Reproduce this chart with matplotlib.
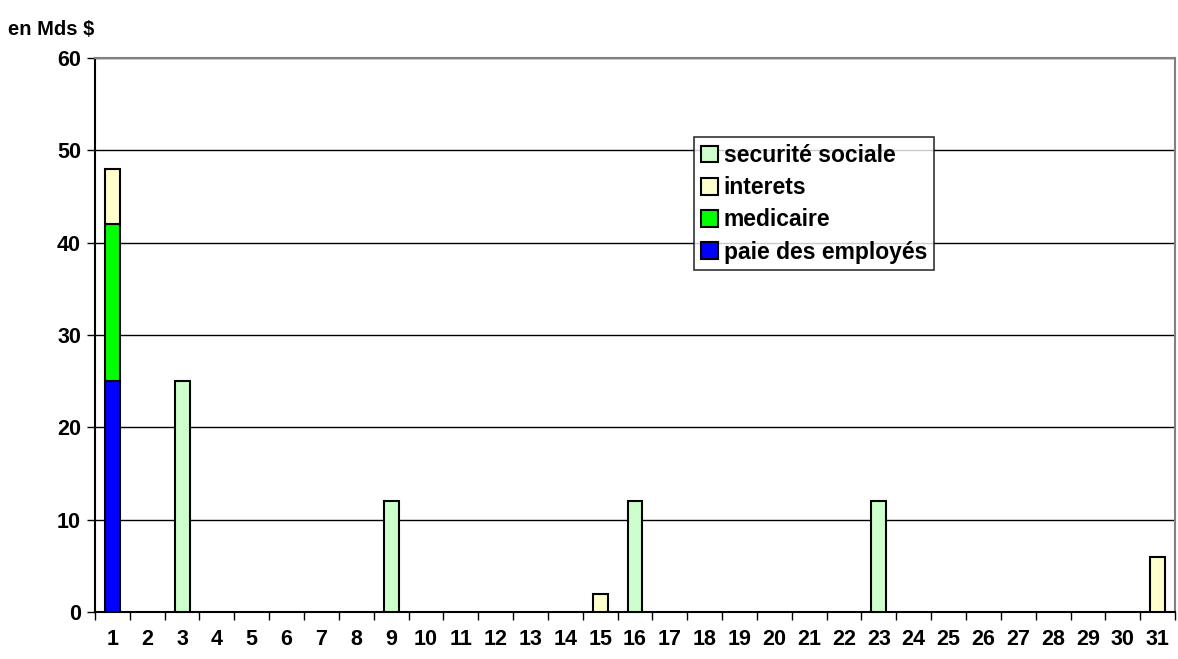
import matplotlib
matplotlib.use("Agg")
import matplotlib.pyplot as plt
import numpy as np

days = list(range(1, 32))
paie = [25] + [0]*30
medicaire = [17] + [0]*30
interets = [0]*31
interets[0] = 6; interets[14] = 2; interets[30] = 6
secu = [0]*31
secu[2] = 25; secu[8] = 12; secu[15] = 12; secu[22] = 12

series = [("paie des employés", paie, "#0000FF"),
          ("medicaire", medicaire, "#00FF00"),
          ("interets", interets, "#FFFFCC"),
          ("securité sociale", secu, "#CCFFCC")]

plt.rcParams['font.family'] = ['Liberation Sans', 'DejaVu Sans']
plt.rcParams['font.weight'] = 'bold'

fig = plt.figure(figsize=(11.78, 6.59), dpi=100)
ax = fig.add_axes([0.0806, 0.0713, 0.9169, 0.8407])

x = np.arange(len(days))
bottom = np.zeros(len(days))
handles = []
for name, vals, col in series:
    v = np.array(vals, dtype=float)
    mask = v > 0
    b = ax.bar(x[mask], v[mask], width=0.43, bottom=bottom[mask], color=col,
               edgecolor="black", linewidth=1.5, label=name, zorder=3)
    handles.append(b)
    bottom += v

ax.set_xlim(-0.5, len(days) - 0.5)
ax.set_ylim(0, 60)
ax.set_yticks(range(0, 61, 10))
ax.yaxis.grid(True, color="black", linewidth=1, zorder=0)
ax.set_xticks(x)
ax.set_xticklabels([str(d) for d in days], fontsize=15.5, fontweight='bold')
ax.set_xticks(np.arange(-0.5, len(days), 1), minor=True)
ax.tick_params(axis='x', which='major', length=0, pad=12)
ax.tick_params(axis='x', which='minor', length=6, direction='out', width=1)
ax.tick_params(axis='y', length=6, direction='out', labelsize=15.5, width=1, pad=4)
for lab in ax.get_yticklabels():
    lab.set_fontweight('bold')

ax.spines['left'].set_color('black')
ax.spines['bottom'].set_color('black')
ax.spines['top'].set_color('#808080')
ax.spines['right'].set_color('#808080')
for s in ax.spines.values():
    s.set_linewidth(1.5)

fig.text(0.007, 0.955, "en Mds $", fontsize=14.5, fontweight='bold', ha='left', va='center')

leg = ax.legend(handles[::-1], [s[0] for s in series][::-1],
                loc='upper left', bbox_to_anchor=(0.5546, 0.857),
                fontsize=16.5, frameon=True, fancybox=False, edgecolor='black',
                handlelength=0.75, handleheight=0.75, handletextpad=0.25,
                borderpad=0.3, labelspacing=0.4, borderaxespad=0)
leg.get_frame().set_linewidth(1.2)
leg.set_zorder(5)
for t in leg.get_texts():
    t.set_fontweight('bold')

fig.savefig("out.png", dpi=100)
